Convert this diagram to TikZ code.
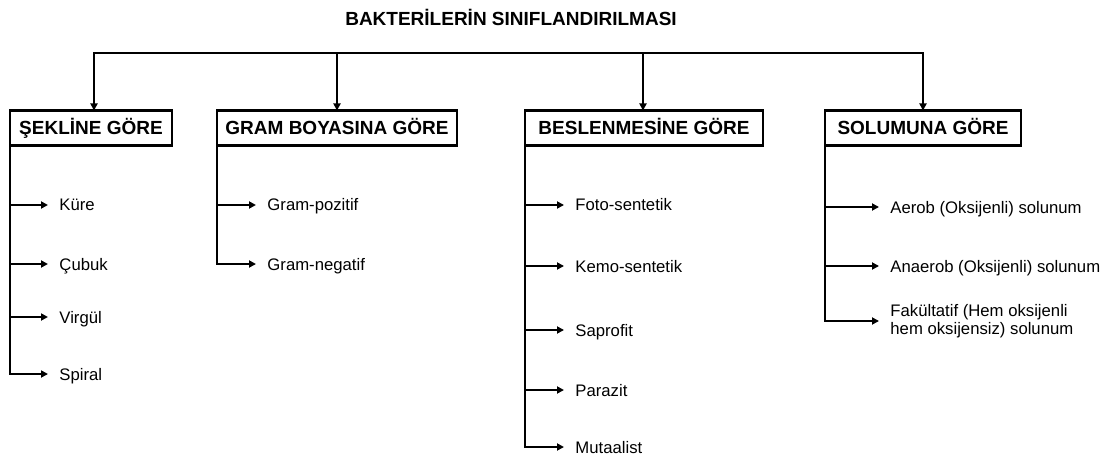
\documentclass[tikz,border=0pt]{standalone}
\usepackage{fontspec}
\setmainfont{Liberation Sans}
\usetikzlibrary{arrows.meta}
\begin{document}
\begin{tikzpicture}[x=1pt,y=-1pt,
  line width=2.9pt,
  arr/.style={-{Triangle[length=7pt,width=7pt]}},
  catbox/.style={draw, line width=2.9pt, inner sep=0pt, outer sep=0pt,
    minimum height=35pt, text height=13.6pt, text depth=0pt,
    font=\fontsize{19}{22}\selectfont\bfseries},
  leaf/.style={anchor=west, inner sep=0pt, text height=12pt, text depth=0pt,
    font=\fontsize{16.7}{18.5}\selectfont},
  leafml/.style={anchor=west, inner sep=0pt, align=left,
    font=\fontsize{16.7}{18.5}\selectfont},
  ]
\useasboundingbox (0,0) rectangle (1113,457);
\node[inner sep=0pt, text height=13.6pt, text depth=0pt,
  font=\fontsize{19}{22}\selectfont\bfseries] (title) at (511,19) {BAKTERİLERİN SINIFLANDIRILMASI};

% category boxes
\node[catbox, minimum width=162pt] (sek) at (91,128) {ŞEKLİNE GÖRE};
\node[catbox, minimum width=240pt] (gram) at (337,128) {GRAM BOYASINA GÖRE};
\node[catbox, minimum width=238pt] (bes) at (644,128) {BESLENMESİNE GÖRE};
\node[catbox, minimum width=196pt] (sol) at (923,128) {SOLUMUNA GÖRE};

% top bar
\coordinate (b1) at (94,53);
\coordinate (b2) at (337,53);
\coordinate (b3) at (643,53);
\coordinate (b4) at (923,53);
\draw[arr] (b2) -- (b1) -- (b1 |- sek.north);
\draw[arr] (b3) -- (b4) -- (b4 |- sol.north);
\draw (b2) -- (b3);
\draw[arr] (b2) -- (b2 |- gram.north);
\draw[arr] (b3) -- (b3 |- bes.north);

% Sekline children
\node[leaf] (k1) at (58,205) {Küre};
\node[leaf] (k2) at (58,264) {Çubuk};
\node[leaf] (k3) at (58,317) {Virgül};
\node[leaf] (k4) at (58,374) {Spiral};
\draw[arr] (sek.south west) |- ([xshift=-10pt]k4.west);
\draw[arr] (sek.south west |- k1.west) -- ([xshift=-10pt]k1.west);
\draw[arr] (sek.south west |- k2.west) -- ([xshift=-10pt]k2.west);
\draw[arr] (sek.south west |- k3.west) -- ([xshift=-10pt]k3.west);

% Gram children
\node[leaf] (g1) at (266,205) {Gram-pozitif};
\node[leaf] (g2) at (266,264) {Gram-negatif};
\draw[arr] (gram.south west) |- ([xshift=-10pt]g2.west);
\draw[arr] (gram.south west |- g1.west) -- ([xshift=-10pt]g1.west);

% Beslenme children
\node[leaf] (e1) at (574,205) {Foto-sentetik};
\node[leaf] (e2) at (574,266) {Kemo-sentetik};
\node[leaf] (e3) at (574,330) {Saprofit};
\node[leaf] (e4) at (574,390) {Parazit};
\node[leaf] (e5) at (574,447) {Mutaalist};
\draw[arr] (bes.south west) |- ([xshift=-10pt]e5.west);
\draw[arr] (bes.south west |- e1.west) -- ([xshift=-10pt]e1.west);
\draw[arr] (bes.south west |- e2.west) -- ([xshift=-10pt]e2.west);
\draw[arr] (bes.south west |- e3.west) -- ([xshift=-10pt]e3.west);
\draw[arr] (bes.south west |- e4.west) -- ([xshift=-10pt]e4.west);

% Solunum children
\node[leaf] (s1) at (889,207) {Aerob (Oksijenli) solunum};
\node[leaf] (s2) at (889,266) {Anaerob (Oksijenli) solunum};
\node[leafml] (s3) at (889,321) {Fakültatif (Hem oksijenli\\hem oksijensiz) solunum};
\draw[arr] (sol.south west) |- ([xshift=-10pt]s3.west);
\draw[arr] (sol.south west |- s1.west) -- ([xshift=-10pt]s1.west);
\draw[arr] (sol.south west |- s2.west) -- ([xshift=-10pt]s2.west);
\end{tikzpicture}
\end{document}
